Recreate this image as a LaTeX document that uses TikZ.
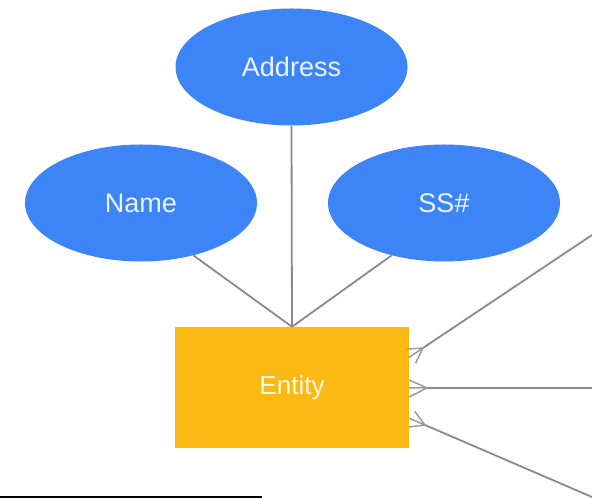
\documentclass[tikz,border=0pt]{standalone}
\usepackage{fontspec}
\setmainfont{Liberation Sans}
\usetikzlibrary{shapes.geometric}
\definecolor{attrblue}{HTML}{3D85F6}
\definecolor{entamber}{HTML}{FDB913}
\definecolor{linkgray}{HTML}{8A8A8A}
\tikzset{
  attr/.style={ellipse, fill=attrblue, draw=none, minimum width=232pt, minimum height=117pt,
    inner sep=0pt, font=\fontsize{27}{30}\selectfont, text=white, text opacity=0.9},
  entbox/.style={rectangle, fill=entamber, draw=none, minimum width=234pt, minimum height=121pt,
    inner sep=0pt, font=\fontsize{26}{30}\selectfont, text=white, text opacity=0.9},
  link/.style={draw=linkgray, line width=1.8pt},
  crow/.style={draw=linkgray!85, line width=1.5pt},
}
\begin{document}
\begin{tikzpicture}[x=1pt, y=1pt]
  \useasboundingbox (0,0) rectangle (592,498);

  % attributes and the entity
  \node[attr] (Address) at (291.5,431) {Address};
  \node[attr] (Name)    at (141,295)   {Name};
  \node[attr] (SSN)     at (444,295)   {SS\#};
  \node[entbox] (Entity) at (292,110.5) {Entity};

  % attribute links
  \draw[link] (Address.south) -- (Entity.north);
  \draw[link] (Name.-45) -- (Entity.north);
  \draw[link] (SSN.-135) -- (Entity.north);

  % relationship ends leaving the picture to the right
  \coordinate (footA) at (423,150);
  \coordinate (footB) at (427,110);
  \coordinate (footC) at (425,73);
  \coordinate (farA) at (592,263);
  \coordinate (farB) at (592,110);
  \coordinate (farC) at (592,1);

  \draw[link] (footA) -- (farA);
  \draw[link] (footB) -- (farB);
  \draw[link] (footC) -- (farC);

  % crow's feet (many side at the entity)
  \draw[crow] (footA) -- ++(184:16) (footA) -- ++(214:17) (footA) -- ++(244:17);
  \draw[crow] (footB) -- (Entity.east |- 0,118) (footB) -- (Entity.east |- 0,110) (footB) -- (Entity.east |- 0,101);
  \draw[crow] (footC) -- ++(127:17) (footC) -- ++(157:17) (footC) -- ++(187:16);

  % rule at the bottom
  \coordinate (ruleL) at (0,1);
  \coordinate (ruleR) at (262,1);
  \draw[black, line width=1.4pt] (ruleL) -- (ruleR);
\end{tikzpicture}
\end{document}
